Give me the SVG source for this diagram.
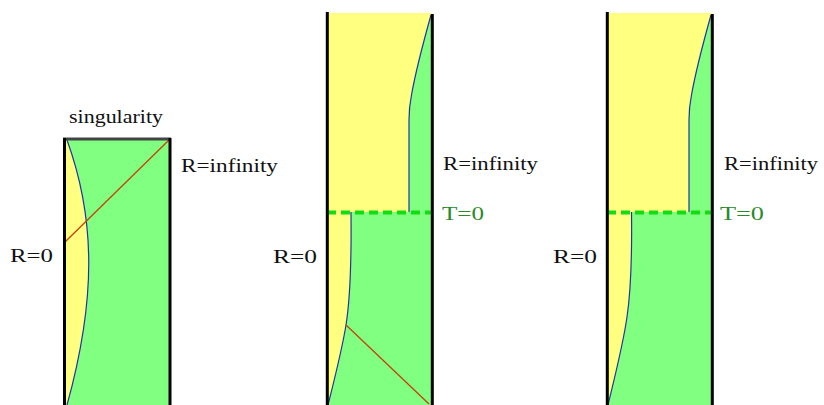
<svg xmlns="http://www.w3.org/2000/svg" width="824" height="405" viewBox="0 0 824 405">
<style>
.y{fill:#ffff80}
.g{fill:#80ff80}
.b{fill:none;stroke:#000;stroke-width:3}
.c{fill:none;stroke:#2233aa;stroke-width:1.2}
.r{fill:none;stroke:#c8400a;stroke-width:1.3}
.d{fill:none;stroke:#11dd11;stroke-width:4;stroke-dasharray:9 5}
.t{font-family:"Liberation Serif","Times New Roman",serif;font-size:19px;fill:#111}
.tg{font-family:"Liberation Serif","Times New Roman",serif;font-size:19px;fill:#2a8a2a}
</style>
<rect width="824" height="405" fill="#fff"/>
<g id="panel1">
<rect class="y" x="65" y="140" width="105" height="265"/>
<path class="g" d="M67,140 C96,220 96,300 67,405 L170,405 L170,140 Z"/>
<path class="c" d="M67,140 C96,220 96,300 67,405"/>
<path class="r" d="M65,242 L169,140"/>
<path d="M63,139 L171,139" fill="none" stroke="#444" stroke-width="3"/>
<path class="b" d="M64.5,138 V405 M170,138 V405"/>
<text class="t" x="69" y="123" textLength="94" lengthAdjust="spacingAndGlyphs">singularity</text>
<text class="t" x="181" y="172" textLength="97" lengthAdjust="spacingAndGlyphs">R=infinity</text>
<text class="t" x="10" y="262" textLength="43" lengthAdjust="spacingAndGlyphs">R=0</text>
</g>
<g id="panel2">
<rect class="y" x="327" y="13" width="105" height="392"/>
<path class="g" d="M431,15 C424,40 415,75 411.5,95 C409.5,105 409,112 409,120 L409,212 L432,212 L432,14 Z"/>
<path class="g" d="M351,212 C351.5,260 350,300 346,325 C342,350 333,385 328,405 L432,405 L432,212 Z"/>
<path class="c" d="M431,15 C424,40 415,75 411.5,95 C409.5,105 409,112 409,120 L409,212"/>
<path class="c" d="M351,212 C351.5,260 350,300 346,325 C342,350 333,385 328,405"/>
<path class="r" d="M346,325 L429,404"/>
<path class="d" d="M327,212.5 H432"/>
<path class="b" d="M327.3,12 V405 M432.3,14 V405"/>
<text class="t" x="443" y="170" textLength="95" lengthAdjust="spacingAndGlyphs">R=infinity</text>
<text class="tg" x="442" y="220" textLength="42" lengthAdjust="spacingAndGlyphs">T=0</text>
<text class="t" x="273" y="263" textLength="44" lengthAdjust="spacingAndGlyphs">R=0</text>
</g>
<g id="panel3">
<rect class="y" x="607" y="13" width="105" height="392"/>
<path class="g" d="M711,15 C704,40 695,75 691.5,95 C689.5,105 689,112 689,120 L689,212 L712,212 L712,14 Z"/>
<path class="g" d="M631.5,212 C632,250 631,290 627,317 C623,345 614,380 608,405 L712,405 L712,212 Z"/>
<path class="c" d="M711,15 C704,40 695,75 691.5,95 C689.5,105 689,112 689,120 L689,212"/>
<path class="c" d="M631.5,212 C632,250 631,290 627,317 C623,345 614,380 608,405"/>
<path class="d" d="M607,212.5 H712"/>
<path class="b" d="M607.3,12 V405 M712.3,14 V405"/>
<text class="t" x="724" y="170" textLength="94" lengthAdjust="spacingAndGlyphs">R=infinity</text>
<text class="tg" x="720" y="220" textLength="44" lengthAdjust="spacingAndGlyphs">T=0</text>
<text class="t" x="553" y="263" textLength="44" lengthAdjust="spacingAndGlyphs">R=0</text>
</g>
</svg>
